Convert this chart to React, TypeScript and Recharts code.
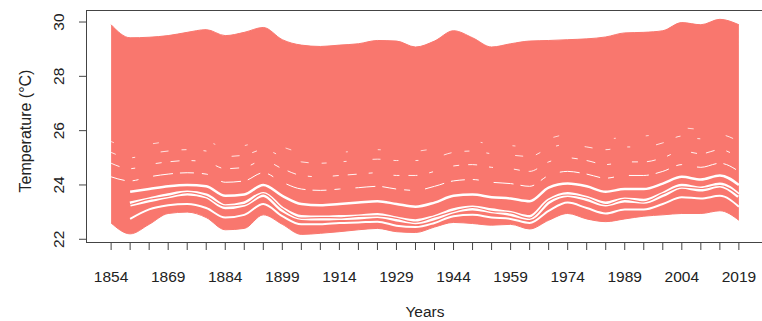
import { ComposedChart, Area, Line, XAxis, YAxis, Label } from 'recharts'

const years = [1854, 1859, 1864, 1869, 1874, 1879, 1884, 1889, 1894, 1899, 1904, 1909, 1914, 1919, 1924, 1929, 1934, 1939, 1944, 1949, 1954, 1959, 1964, 1969, 1974, 1979, 1984, 1989, 1994, 1999, 2004, 2009, 2014, 2019]
const labelYears = [1854, 1869, 1884, 1899, 1914, 1929, 1944, 1959, 1974, 1989, 2004, 2019]
const yTicks = [22, 24, 26, 28, 30]

// outer envelope of all the station curves
const upper = [29.9, 29.42, 29.44, 29.5, 29.62, 29.72, 29.5, 29.62, 29.8, 29.35, 29.15, 29.1, 29.15, 29.2, 29.32, 29.3, 29.08, 29.3, 29.68, 29.42, 29.08, 29.2, 29.3, 29.32, 29.35, 29.38, 29.45, 29.6, 29.62, 29.68, 29.98, 29.9, 30.1, 29.9]
const lower = [22.6, 22.2, 22.55, 22.95, 23.0, 22.8, 22.35, 22.4, 22.9, 22.55, 22.18, 22.22, 22.28, 22.35, 22.4, 22.28, 22.25, 22.45, 22.62, 22.58, 22.52, 22.55, 22.38, 22.7, 22.95, 22.75, 22.65, 22.75, 22.85, 22.9, 22.95, 22.95, 23.05, 22.7]

// white gaps between the lower curves
const gapHigh = [null, 23.75, 23.85, 23.95, 24.0, 23.95, 23.6, 23.65, 24.0, 23.6, 23.3, 23.25, 23.3, 23.35, 23.4, 23.3, 23.2, 23.35, 23.6, 23.65, 23.55, 23.5, 23.4, 23.9, 24.05, 23.95, 23.75, 23.85, 23.85, 24.05, 24.3, 24.2, 24.35, 24.0]
const gapMid = [null, 23.3, 23.45, 23.6, 23.7, 23.6, 23.2, 23.3, 23.65, 23.1, 22.8, 22.78, 22.8, 22.82, 22.88, 22.75, 22.65, 22.8, 23.05, 23.15, 23.05, 22.95, 22.8, 23.4, 23.65, 23.5, 23.3, 23.45, 23.4, 23.65, 23.95, 23.85, 24.0, 23.6]
const splitMid = [null, 23.28, 23.47, 23.58, 23.72, 23.58, 23.22, 23.28, 23.67, 23.12, 22.78, 22.8, 22.79, 22.84, 22.86, 22.77, 22.63, 22.82, 23.03, 23.17, 23.03, 22.97, 22.78, 23.42, 23.63, 23.52, 23.28, 23.47, 23.38, 23.67, 23.93, 23.87, 23.98, 23.62]
const gapLow = [null, 22.75, 23.1, 23.25, 23.3, 23.15, 22.8, 22.9, 23.3, 22.85, 22.55, 22.55, 22.6, 22.62, 22.65, 22.5, 22.45, 22.6, 22.85, 22.9, 22.8, 22.75, 22.6, 23.05, 23.35, 23.15, 22.95, 23.1, 23.1, 23.3, 23.55, 23.5, 23.6, 23.2]

// faint streaks higher up
const streakA = [24.3, 24.15, 24.3, 24.4, 24.45, 24.4, 24.1, 24.15, 24.45, 24.1, 23.85, 23.8, 23.85, 23.9, 23.95, 23.85, 23.8, 23.95, 24.15, 24.2, 24.1, 24.05, 23.95, 24.35, 24.5, 24.4, 24.25, 24.35, 24.35, 24.5, 24.75, 24.65, 24.8, 24.5]
const streakB = [24.8, 24.6, 24.75, 24.85, 24.9, 24.85, 24.6, 24.65, 24.9, 24.6, 24.35, 24.3, 24.35, 24.4, 24.45, 24.35, 24.35, 24.5, 24.7, 24.75, 24.65, 24.6, 24.5, 24.85, 25.0, 24.9, 24.75, 24.85, 24.85, 25.0, 25.25, 25.15, 25.3, 25.0]
const streakC = [25.2, 25.0, 25.15, 25.25, 25.3, 25.25, 25.05, 25.1, 25.3, 25.05, 24.85, 24.8, 24.85, 24.9, 24.95, 24.9, 24.9, 25.0, 25.2, 25.25, 25.15, 25.1, 25.05, 25.35, 25.5, 25.4, 25.3, 25.4, 25.4, 25.55, 25.8, 25.7, 25.85, 25.6]
const streakD = [25.6, 25.4, 25.5, 25.6, 25.65, 25.6, 25.4, 25.45, 25.65, 25.4, 25.2, 25.15, 25.2, 25.25, 25.3, 25.25, 25.25, 25.35, 25.55, 25.6, 25.5, 25.45, 25.4, 25.7, 25.85, 25.8, 25.7, 25.75, 25.8, 25.9, 26.1, 26.05, 26.2, 25.95]

const data = years.map((year, i) => ({
  year,
  band: [lower[i], upper[i]],
  gapHigh: gapHigh[i],
  gapMid: gapMid[i],
  splitMid: splitMid[i],
  gapLow: gapLow[i],
  streakA: streakA[i],
  streakB: streakB[i],
  streakC: streakC[i],
  streakD: streakD[i],
}))

const SALMON = '#F9776E'
const FRAME = '#444'
const FONT = '"Liberation Sans", Arial, sans-serif'
const X_DOM: [number, number] = [1847.4, 2025.6]
const Y_DOM: [number, number] = [21.863, 30.443]

const XTick = ({ x, y, payload }: any) =>
  labelYears.includes(payload.value) ? (
    <text x={x} y={y + 24} textAnchor="middle" dominantBaseline="central" fontSize={15.5} fontFamily={FONT} fill="#222">{payload.value}</text>
  ) : null

const YTick = ({ x, y, payload }: any) => (
  <text x={x - 18} y={y} transform={`rotate(-90 ${x - 18} ${y})`} textAnchor="middle" dominantBaseline="central" fontSize={15.5} fontFamily={FONT} fill="#222">{payload.value}</text>
)

export default function App() {
  return (
    <div style={{ position: 'absolute', left: 0, top: 0, width: 762, height: 321, overflow: 'hidden', background: '#fff' }}>
      <ComposedChart width={770} height={321} data={data} margin={{ top: 10, right: 6, bottom: 0, left: 0 }}>
        <XAxis type="number" dataKey="year" domain={X_DOM} ticks={years} interval={0} allowDataOverflow
          axisLine={false} tickSize={7} tickLine={{ stroke: FRAME }} tick={<XTick />} height={78}>
          <Label content={() => <text x={425} y={311} textAnchor="middle" dominantBaseline="central" fontSize={15.5} fontFamily={FONT} fill="#222">Years</text>} />
        </XAxis>
        <YAxis type="number" domain={Y_DOM} ticks={yTicks} allowDataOverflow width={86}
          axisLine={false} tickSize={7} tickLine={{ stroke: FRAME }} tick={<YTick />}>
          <Label content={() => <text x={25} y={131} transform="rotate(-90 25 131)" textAnchor="middle" dominantBaseline="central" fontSize={16} fontFamily={FONT} fill="#222">Temperature (°C)</text>} />
        </YAxis>
        <Area dataKey="band" type="monotone" stroke={SALMON} strokeWidth={1} fill={SALMON} fillOpacity={1} isAnimationActive={false} />
        <Line dataKey="streakD" type="monotone" stroke="#fff" strokeWidth={0.7} strokeDasharray="3 40 6 55 2 30" dot={false} isAnimationActive={false} />
        <Line dataKey="streakC" type="monotone" stroke="#fff" strokeWidth={0.8} strokeDasharray="5 17 3 26 8 13" dot={false} isAnimationActive={false} />
        <Line dataKey="streakB" type="monotone" stroke="#fff" strokeWidth={0.9} strokeDasharray="9 12 4 21 6 9" dot={false} isAnimationActive={false} />
        <Line dataKey="streakA" type="monotone" stroke="#fff" strokeWidth={1} strokeDasharray="14 8 6 15 20 7" dot={false} isAnimationActive={false} />
        <Line dataKey="gapHigh" type="monotone" stroke="#fff" strokeWidth={2.5} dot={false} isAnimationActive={false} />
        <Line dataKey="gapMid" type="monotone" stroke="#fff" strokeWidth={5} dot={false} isAnimationActive={false} />
        <Line dataKey="splitMid" type="monotone" stroke={SALMON} strokeWidth={1.2} dot={false} isAnimationActive={false} />
        <Line dataKey="gapLow" type="monotone" stroke="#fff" strokeWidth={2} dot={false} isAnimationActive={false} />
      </ComposedChart>
      {/* plot box, like R's box() */}
      <div style={{ position: 'absolute', left: 86, top: 10, width: 690, height: 233, border: `1px solid ${FRAME}`, boxSizing: 'border-box', pointerEvents: 'none' }} />
    </div>
  )
}
